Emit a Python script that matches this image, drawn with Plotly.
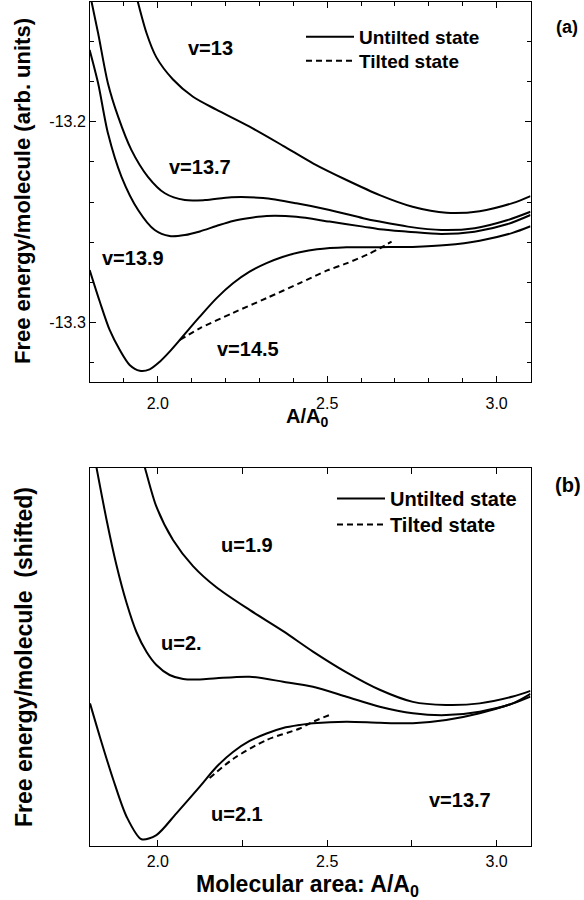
import plotly.graph_objects as go

FONT = "Liberation Sans, Arial, Helvetica, sans-serif"

# ---- (a) free energy per molecule vs A/A0, several v values ----
v13_x = [1.930, 1.967, 1.996, 2.045, 2.104, 2.173, 2.271, 2.370, 2.458, 2.557, 2.655, 2.752, 2.852, 2.950, 3.047, 3.100]
v13_y = [-13.133, -13.156, -13.168, -13.179, -13.1876, -13.194, -13.2025, -13.212, -13.2207, -13.229, -13.2365, -13.2423, -13.2453, -13.2445, -13.2405, -13.237]

v137_x = [1.798, 1.824, 1.853, 1.883, 1.922, 1.971, 2.021, 2.080, 2.139, 2.217, 2.311, 2.409, 2.507, 2.606, 2.655, 2.738, 2.837, 2.935, 3.033, 3.100]
v137_y = [-13.135, -13.156, -13.181, -13.1975, -13.214, -13.2274, -13.2356, -13.239, -13.239, -13.2376, -13.238, -13.2406, -13.2439, -13.248, -13.2497, -13.2522, -13.2539, -13.253, -13.2489, -13.2448]

v139_x = [1.799, 1.824, 1.853, 1.893, 1.942, 1.991, 2.035, 2.080, 2.124, 2.173, 2.222, 2.271, 2.321, 2.409, 2.507, 2.606, 2.655, 2.738, 2.837, 2.935, 3.033, 3.100]
v139_y = [-13.1643, -13.1809, -13.2058, -13.2274, -13.2439, -13.2539, -13.2569, -13.2564, -13.2546, -13.2519, -13.2494, -13.2479, -13.2469, -13.2473, -13.2497, -13.2522, -13.2535, -13.2547, -13.2559, -13.2547, -13.2509, -13.2464]

v145_x = [1.799, 1.829, 1.858, 1.888, 1.917, 1.947, 1.976, 2.006, 2.035, 2.065, 2.094, 2.124, 2.173, 2.222, 2.271, 2.321, 2.370, 2.419, 2.470, 2.557, 2.655, 2.752, 2.852, 2.950, 3.047, 3.100]
v145_y = [-13.2738, -13.2896, -13.3036, -13.3136, -13.3210, -13.3239, -13.3232, -13.3194, -13.3144, -13.3086, -13.3028, -13.2970, -13.2879, -13.2804, -13.2746, -13.2704, -13.2672, -13.2650, -13.2635, -13.2625, -13.2624, -13.2623, -13.2614, -13.2592, -13.2553, -13.2520]

tilt_a_x = [2.065, 2.124, 2.221, 2.322, 2.419, 2.500, 2.557, 2.620, 2.655, 2.690]
tilt_a_y = [-13.3086, -13.3028, -13.2952, -13.2877, -13.2803, -13.274, -13.2705, -13.266, -13.263, -13.2597]

# ---- (b) shifted free energy at v=13.7 for several u values ----
u19_x = [1.955, 1.962, 1.996, 2.045, 2.104, 2.173, 2.271, 2.370, 2.458, 2.557, 2.655, 2.753, 2.851, 2.950, 3.048, 3.100]
u19_y = [1.02, 1.0, 0.897, 0.809, 0.740, 0.684, 0.624, 0.568, 0.514, 0.459, 0.413, 0.381, 0.373, 0.377, 0.395, 0.41]

u20_x = [1.815, 1.849, 1.878, 1.908, 1.937, 1.967, 1.996, 2.035, 2.075, 2.124, 2.173, 2.271, 2.370, 2.458, 2.557, 2.655, 2.753, 2.851, 2.950, 3.048, 3.100]
u20_y = [1.02, 0.8618, 0.7428, 0.6423, 0.5657, 0.5128, 0.4785, 0.452, 0.4414, 0.4401, 0.4433, 0.4475, 0.4343, 0.421, 0.3947, 0.368, 0.3508, 0.346, 0.355, 0.377, 0.402]

u21_x = [1.800, 1.829, 1.869, 1.908, 1.952, 1.996, 2.055, 2.124, 2.173, 2.222, 2.271, 2.321, 2.370, 2.419, 2.458, 2.557, 2.655, 2.753, 2.851, 2.950, 3.048, 3.100]
u21_y = [0.377, 0.289, 0.1745, 0.0775, 0.0177, 0.029, 0.0864, 0.1568, 0.2088, 0.2485, 0.2776, 0.2974, 0.3119, 0.3198, 0.3243, 0.3286, 0.3255, 0.3245, 0.333, 0.351, 0.377, 0.395]

tilt_b_x = [2.153, 2.222, 2.321, 2.419, 2.453, 2.507]
tilt_b_y = [0.1798, 0.2299, 0.2802, 0.3106, 0.3265, 0.3463]

# ---- tick labels ----
x_tickvals = [2.0, 2.5, 3.0]
x_ticktext = ["2.0", "2.5", "3.0"]
ya_tickvals = [-13.3, -13.2]
ya_ticktext = ["-13.3", "-13.2"]

# ---- curve labels ----
labels_a = [("v=13", 2.156, -13.1633), ("v=13.7", 2.124, -13.2225),
            ("v=13.9", 1.926, -13.2678), ("v=14.5", 2.265, -13.3131)]
labels_b = [("u=1.9", 2.263, 0.7957), ("u=2.", 2.071, 0.5366),
            ("u=2.1", 2.233, 0.0846), ("v=13.7", 2.891, 0.1216)]

W, H = 584, 900
SMOOTH = 0.8
solid = dict(color="black", width=2, shape="spline", smoothing=SMOOTH)
dashed = dict(color="black", width=2, dash="6px,4px", shape="spline", smoothing=SMOOTH)

fig = go.Figure()

# panel (a): one legend per entry so each row can be placed on its own
curves_a = [(v13_x, v13_y), (v137_x, v137_y), (v139_x, v139_y), (v145_x, v145_y)]
for i, (cx, cy) in enumerate(curves_a):
    fig.add_trace(go.Scatter(x=cx, y=cy, mode="lines", line=solid,
                             name="Untilted state", showlegend=(i == 0), legend="legend",
                             xaxis="x", yaxis="y"))
fig.add_trace(go.Scatter(x=tilt_a_x, y=tilt_a_y, mode="lines", line=dashed,
                         name="Tilted state", showlegend=True, legend="legend3",
                         xaxis="x", yaxis="y"))

# panel (b)
curves_b = [(u19_x, u19_y), (u20_x, u20_y), (u21_x, u21_y)]
for i, (cx, cy) in enumerate(curves_b):
    fig.add_trace(go.Scatter(x=cx, y=cy, mode="lines", line=solid,
                             name="Untilted state", showlegend=(i == 0), legend="legend2",
                             xaxis="x2", yaxis="y2"))
fig.add_trace(go.Scatter(x=tilt_b_x, y=tilt_b_y, mode="lines", line=dashed,
                         name="Tilted state", showlegend=True, legend="legend4",
                         xaxis="x2", yaxis="y2"))

axis_common = dict(showline=True, linecolor="black", linewidth=1, mirror="ticks",
                   showgrid=False, zeroline=False, ticks="inside", ticklen=6,
                   tickwidth=1, tickcolor="black",
                   tickfont=dict(family=FONT, size=16, color="black"))

x_dom = [90 / W, 530.5 / W]


def legend_box(x_px, top_px, size):
    return dict(x=x_px / W, y=(H - top_px) / H, xanchor="left", yanchor="top",
                bgcolor="rgba(0,0,0,0)", borderwidth=0, itemwidth=48,
                font=dict(family=FONT, size=size, color="black", weight="bold"))


fig.update_layout(
    width=W, height=H, margin=dict(l=0, r=0, t=0, b=0),
    paper_bgcolor="white", plot_bgcolor="white",
    font=dict(family=FONT, color="black"),
    xaxis=dict(domain=x_dom, range=[1.8, 3.1], anchor="y",
               tickvals=x_tickvals, ticktext=x_ticktext, ticklabelstandoff=7,
               minor=dict(dtick=0.1, tick0=2.0, ticks="inside", ticklen=4,
                          tickcolor="black", showgrid=False),
               **axis_common),
    yaxis=dict(domain=[(H - 381.7) / H, (H - 2) / H], range=[-13.32935, -13.14045],
               anchor="x", tickvals=ya_tickvals, ticktext=ya_ticktext,
               minor=dict(dtick=0.02, tick0=-13.3, ticks="inside", ticklen=4,
                          tickcolor="black", showgrid=False),
               **axis_common),
    xaxis2=dict(domain=x_dom, range=[1.8, 3.1], anchor="y2",
                tickvals=x_tickvals, ticktext=x_ticktext, ticklabelstandoff=1,
                minor=dict(dtick=0.25, tick0=2.0, ticks="inside", ticklen=6,
                           tickcolor="black", showgrid=False),
                **axis_common),
    yaxis2=dict(domain=[(H - 846) / H, (H - 467.7) / H], range=[0, 1], anchor="x2",
                showline=True, linecolor="black", linewidth=1, mirror=True,
                showgrid=False, zeroline=False, ticks="", showticklabels=False),
    legend=legend_box(301, 18, 19),
    legend3=legend_box(301, 42, 19),
    legend2=legend_box(332, 479, 20),
    legend4=legend_box(332, 505, 20),
)

bold = dict(family=FONT, size=20, color="black", weight="bold")
ann = []
for text, ax, ay in labels_a:
    ann.append(dict(text=text, x=ax, y=ay, xref="x", yref="y", showarrow=False,
                    xanchor="center", yanchor="middle", font=bold))
for text, ax, ay in labels_b:
    ann.append(dict(text=text, x=ax, y=ay, xref="x2", yref="y2", showarrow=False,
                    xanchor="center", yanchor="middle", font=bold))


def paper_text(text, x_px, y_px, size, angle=0):
    return dict(text=text, x=x_px / W, y=(H - y_px) / H, xref="paper", yref="paper",
                showarrow=False, xanchor="center", yanchor="middle", textangle=angle,
                font=dict(family=FONT, size=size, color="black", weight="bold"))


ann += [
    paper_text("(a)", 567, 27, 18),
    paper_text("(b)", 568, 485, 20),
    paper_text("A/A<sub>0</sub>", 307, 417, 20),
    paper_text("Molecular area: A/A<sub>0</sub>", 307, 885, 23),
    paper_text("Free energy/molecule (arb. units)", 23, 191, 22, -90),
    paper_text("Free energy/molecule  (shifted)", 24, 657, 23, -90),
]
fig.update_layout(annotations=ann)

fig.write_html("out.html")
